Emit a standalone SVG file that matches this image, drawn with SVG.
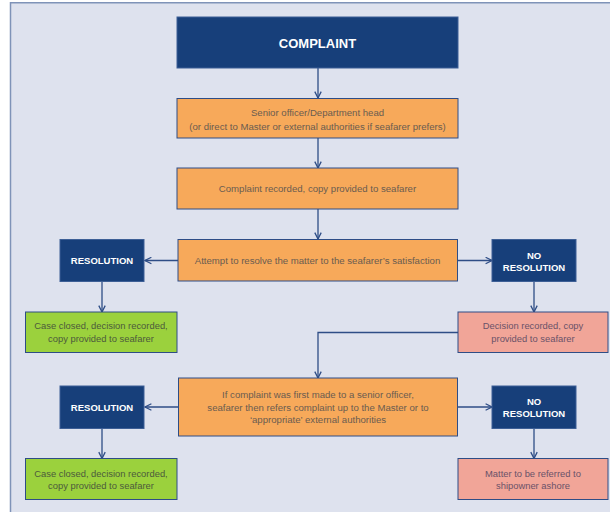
<svg xmlns="http://www.w3.org/2000/svg" width="610" height="512" viewBox="0 0 610 512">
<defs>
<style>
.bg{fill:#dee2ee;stroke:#7f93b8;stroke-width:1.5}
.navy{fill:#173f7a;stroke:#3d5f96;stroke-width:1}
.orange{fill:#f7a95a;stroke:#2e4d86;stroke-width:1}
.green{fill:#9bd13d;stroke:#2e4d86;stroke-width:1}
.pink{fill:#f1a598;stroke:#2e4d86;stroke-width:1}
.hd{font-family:"Liberation Sans",Arial,sans-serif;font-weight:bold;fill:#ffffff;text-anchor:middle}
.tx{font-family:"Liberation Sans",Arial,sans-serif;font-size:9.6px;fill:#6a5c50;text-anchor:middle}
.tg{font-family:"Liberation Sans",Arial,sans-serif;font-size:9.4px;fill:#4c5a3c;text-anchor:middle}
.tp{font-family:"Liberation Sans",Arial,sans-serif;font-size:9.4px;fill:#6a5268;text-anchor:middle}
.ln{fill:none;stroke:#2e4d86;stroke-width:1.3}
</style>
<marker id="ah" viewBox="0 0 10 10" refX="9" refY="5" markerWidth="8" markerHeight="8" markerUnits="userSpaceOnUse" orient="auto">
<path d="M1,1 L9,5 L1,9" fill="none" stroke="#2e4d86" stroke-width="1.6"/>
</marker>
</defs>
<rect x="0" y="0" width="610" height="512" fill="#ffffff"/>
<rect class="bg" x="10.5" y="2.75" width="610" height="520"/>

<g id="connectors">
<path class="ln" d="M318,68 V98" marker-end="url(#ah)"/>
<path class="ln" d="M318,138 V168" marker-end="url(#ah)"/>
<path class="ln" d="M318,209 V239" marker-end="url(#ah)"/>
<path class="ln" d="M178,260.5 H145" marker-end="url(#ah)"/>
<path class="ln" d="M457.5,260.5 H492" marker-end="url(#ah)"/>
<path class="ln" d="M102,282 V312" marker-end="url(#ah)"/>
<path class="ln" d="M534,282 V312" marker-end="url(#ah)"/>
<path class="ln" d="M458,332.5 H318 V378" marker-end="url(#ah)"/>
<path class="ln" d="M178.5,407 H145" marker-end="url(#ah)"/>
<path class="ln" d="M457.5,407 H492" marker-end="url(#ah)"/>
<path class="ln" d="M102,428.5 V458.5" marker-end="url(#ah)"/>
<path class="ln" d="M534,428.5 V458.5" marker-end="url(#ah)"/>
</g>

<g id="complaint">
<rect class="navy" x="177" y="17" width="281" height="51"/>
<text class="hd" x="317.5" y="47.5" font-size="13">COMPLAINT</text>
</g>

<g id="senior-officer">
<rect class="orange" x="177" y="98.5" width="281" height="39.5"/>
<text class="tx" x="317.5" y="116">Senior officer/Department head</text>
<text class="tx" x="317.5" y="129.5">(or direct to Master or external authorities if seafarer prefers)</text>
</g>

<g id="complaint-recorded">
<rect class="orange" x="177" y="168" width="281" height="41"/>
<text class="tx" x="317.5" y="192">Complaint recorded, copy provided to seafarer</text>
</g>

<g id="attempt-resolve">
<rect class="orange" x="178" y="239.5" width="279.5" height="41.5"/>
<text class="tx" x="317.5" y="264">Attempt to resolve the matter to the seafarer’s satisfaction</text>
</g>

<g id="resolution-1">
<rect class="navy" x="60" y="239.5" width="84" height="42"/>
<text class="hd" x="102" y="264" font-size="9.5">RESOLUTION</text>
</g>

<g id="no-resolution-1">
<rect class="navy" x="492" y="239.5" width="84" height="42"/>
<text class="hd" x="534" y="258.5" font-size="9.5">NO</text>
<text class="hd" x="534" y="270.5" font-size="9.5">RESOLUTION</text>
</g>

<g id="case-closed-1">
<rect class="green" x="25.5" y="312" width="151.5" height="40.5"/>
<text class="tg" x="101" y="329">Case closed, decision recorded,</text>
<text class="tg" x="101" y="341.5">copy provided to seafarer</text>
</g>

<g id="decision-recorded">
<rect class="pink" x="458" y="312" width="150" height="40.5"/>
<text class="tp" x="533" y="329">Decision recorded, copy</text>
<text class="tp" x="533" y="341.5">provided to seafarer</text>
</g>

<g id="refer-master">
<rect class="orange" x="178.5" y="378" width="279" height="58"/>
<text class="tx" x="318" y="398">If complaint was first made to a senior officer,</text>
<text class="tx" x="318" y="410.5">seafarer then refers complaint up to the Master or to</text>
<text class="tx" x="318" y="423">‘appropriate’ external authorities</text>
</g>

<g id="resolution-2">
<rect class="navy" x="60" y="386" width="84" height="42.5"/>
<text class="hd" x="102" y="410.5" font-size="9.5">RESOLUTION</text>
</g>

<g id="no-resolution-2">
<rect class="navy" x="492" y="386" width="84" height="42.5"/>
<text class="hd" x="534" y="404.5" font-size="9.5">NO</text>
<text class="hd" x="534" y="416.5" font-size="9.5">RESOLUTION</text>
</g>

<g id="case-closed-2">
<rect class="green" x="25.5" y="458.5" width="151.5" height="41"/>
<text class="tg" x="101" y="477">Case closed, decision recorded,</text>
<text class="tg" x="101" y="489">copy provided to seafarer</text>
</g>

<g id="shipowner">
<rect class="pink" x="458" y="458.5" width="150" height="41"/>
<text class="tp" x="533" y="477">Matter to be referred to</text>
<text class="tp" x="533" y="489">shipowner ashore</text>
</g>
</svg>
